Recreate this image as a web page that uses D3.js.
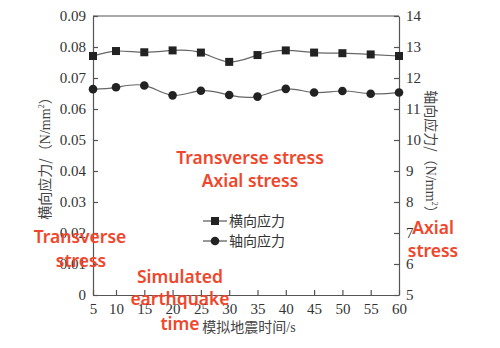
<!DOCTYPE html>
<html><head><meta charset="utf-8">
<script src="https://cdn.jsdelivr.net/npm/d3@7/dist/d3.min.js"></script>
<style>body{margin:0;background:#fff}svg{display:block}
.serif{font-family:"Times New Roman",Times,"Liberation Serif","DejaVu Serif",serif !important}
</style>
</head><body>
<svg id="c" width="500" height="348"></svg>
<script>
const times = [5,10,15,20,25,30,35,40,45,50,55,60];
const transverse = [0.0771,0.0787,0.0783,0.0789,0.0782,0.0752,0.0774,0.0789,0.0782,0.0780,0.0776,0.0771];
const axial = [11.64,11.70,11.76,11.44,11.59,11.45,11.40,11.65,11.53,11.58,11.49,11.53];
const xTicks = [5,10,15,20,25,30,35,40,45,50,55,60];
const leftTicks = [0,0.01,0.02,0.03,0.04,0.05,0.06,0.07,0.08,0.09];
const leftTickLabels = ["0","0.01","0.02","0.03","0.04","0.05","0.06","0.07","0.08","0.09"];
const rightTicks = [5,6,7,8,9,10,11,12,13,14];
const legendNames = ["横向应力","轴向应力"];

const svg = d3.select("#c");
const L=93, R=399, T=16, B=295;
const x = d3.scaleLinear().domain([5,10,60]).range([L,116,R]);
const yL = d3.scaleLinear().domain([0,0.09]).range([B,T]);
const yR = d3.scaleLinear().domain([5,14]).range([B,T]);
const axisCol="#555";

svg.append("line").attr("x1",L).attr("x2",R).attr("y1",T).attr("y2",T).attr("stroke",axisCol).attr("stroke-width",1.2);

const gx = svg.append("g").attr("transform",`translate(0,${B})`)
  .call(d3.axisBottom(x).tickValues(xTicks).tickSizeInner(-5).tickSizeOuter(0).tickPadding(8));
const gl = svg.append("g").attr("transform",`translate(${L},0)`)
  .call(d3.axisLeft(yL).tickValues(leftTicks).tickFormat((d,i)=>leftTickLabels[i]).tickSizeInner(-5).tickSizeOuter(0).tickPadding(7));
const gr = svg.append("g").attr("transform",`translate(${R},0)`)
  .call(d3.axisRight(yR).tickValues(rightTicks).tickSizeInner(-5).tickSizeOuter(0).tickPadding(7));
[gx,gl,gr].forEach(g=>{
  g.attr("font-family",null).attr("font-size",15).attr("class","serif");
  g.selectAll("path,line").attr("stroke",axisCol).attr("stroke-width",1.2);
  g.selectAll("text").attr("class","serif").attr("font-size",15).attr("fill","#333");
});

const lineT = d3.line().x((d,i)=>x(times[i])).y(d=>yL(d)).curve(d3.curveNatural);
const lineA = d3.line().x((d,i)=>x(times[i])).y(d=>yR(d)).curve(d3.curveNatural);
svg.append("path").attr("d",lineT(transverse)).attr("fill","none").attr("stroke","#666").attr("stroke-width",1.2);
svg.append("path").attr("d",lineA(axial)).attr("fill","none").attr("stroke","#666").attr("stroke-width",1.2);
svg.selectAll(".sq").data(transverse).join("rect").attr("class","sq")
  .attr("x",(d,i)=>x(times[i])-4).attr("y",d=>yL(d)-4).attr("width",8).attr("height",8).attr("fill","#222");
svg.selectAll(".ci").data(axial).join("circle").attr("class","ci")
  .attr("cx",(d,i)=>x(times[i])).attr("cy",d=>yR(d)).attr("r",4.3).attr("fill","#222");

const lg = svg.append("g");
[221,241].forEach((yy,i)=>{
  lg.append("line").attr("x1",203).attr("x2",227).attr("y1",yy).attr("y2",yy).attr("stroke","#555").attr("stroke-width",1.2);
  if(i===0) lg.append("rect").attr("x",211).attr("y",yy-4).attr("width",8).attr("height",8).attr("fill","#222");
  else lg.append("circle").attr("cx",215).attr("cy",yy).attr("r",4.3).attr("fill","#222");
  lg.append("text").attr("x",229).attr("y",yy+5).text(legendNames[i]).attr("font-family","Noto Sans CJK SC, serif").attr("font-size",14).attr("fill","#333");
});

function addLabel(t, txt){
  t.append("tspan").text(txt).attr("font-family","Noto Sans CJK SC");
  t.append("tspan").text("（").attr("font-family","Noto Sans CJK SC");
  t.append("tspan").text("N/mm").attr("class","serif");
  t.append("tspan").text("2").attr("class","serif").attr("font-size",8).attr("dy",-6);
  t.append("tspan").text("）").attr("font-family","Noto Sans CJK SC").attr("dy",6);
}
const lt = svg.append("text").attr("transform","translate(50,155) rotate(-90)").attr("text-anchor","middle")
  .attr("font-size",14).attr("fill","#444");
addLabel(lt,"横向应力/");
const rt = svg.append("text").attr("transform","translate(426,155) rotate(90)").attr("text-anchor","middle")
  .attr("font-size",14).attr("fill","#444");
addLabel(rt,"轴向应力/");
const xt = svg.append("text").attr("x",249).attr("y",332).attr("text-anchor","middle").attr("font-size",14).attr("fill","#444");
xt.append("tspan").text("模拟地震时间").attr("font-family","Noto Sans CJK SC");
xt.append("tspan").text("/s").attr("class","serif");

const red = "#f0462b";
const ann = [
  ["Transverse stress",250,164],["Axial stress",250,187],
  ["Transverse",80,243],["stress",81,267],
  ["Simulated",180,283],["earthquake",180,305],["time",180,330],
  ["Axial",433,234],["stress",433,257]
];
svg.selectAll(".ann").data(ann).join("text").attr("class","ann")
  .attr("x",d=>d[1]).attr("y",d=>d[2]).attr("text-anchor","middle").text(d=>d[0])
  .attr("font-family","Noto Sans, Liberation Sans, sans-serif").attr("font-weight",600).attr("font-size",17.5).attr("fill",red);
</script>
</body></html>
